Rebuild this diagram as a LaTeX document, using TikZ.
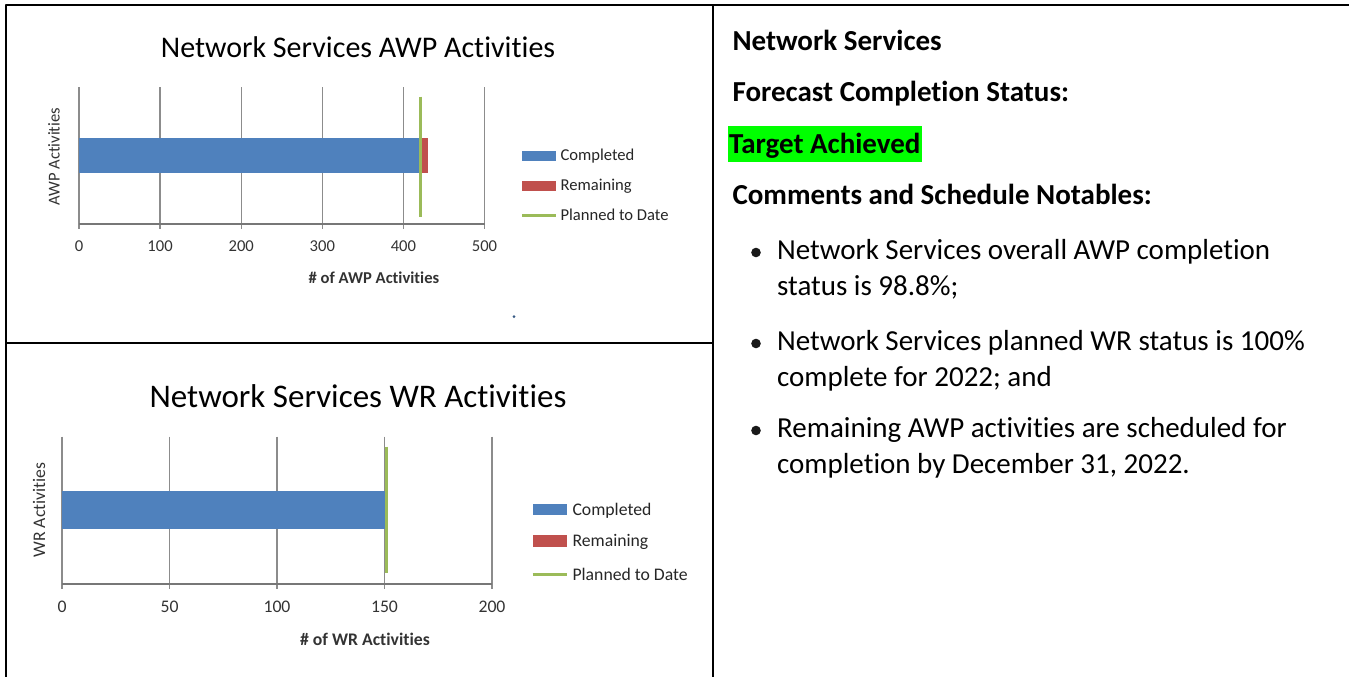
\documentclass[tikz,border=0pt]{standalone}
\usepackage{fontspec}
\setmainfont{Carlito}[Ligatures=NoCommon]
\definecolor{barblue}{HTML}{4F81BD}
\definecolor{barred}{HTML}{C0504D}
\definecolor{plangreen}{HTML}{9BBB59}
\definecolor{gridgray}{HTML}{8C8C8C}
\definecolor{hilite}{HTML}{00FF00}
\newcommand\pxfont[1]{\fontsize{#1}{#1}\selectfont}
\begin{document}
\begin{tikzpicture}[x=1pt, y=-1pt, line join=round,
    frame/.style={line width=2.2pt, black},
    gridln/.style={gridgray, line width=1.4pt},
    axisln/.style={gridgray!85!black, line width=2pt},
    planln/.style={plangreen, line width=3pt},
    charttitle/.style={anchor=base, text=black},
    lbl/.style={text=black!80},
    ticktxt/.style={anchor=base, text=black!80},
    legtxt/.style={anchor=base west, text=black!85},
    heading/.style={anchor=base west, font=\bfseries\pxfont{29}},
    bodytext/.style={anchor=base west, font=\pxfont{29}},
    bulletdot/.style={fill=black!90}]
  \useasboundingbox (0,0) rectangle (1349,677);
  \path
  (6,5.3) coordinate (TL)
  (1349,5.3) coordinate (TR)
  (6,677) coordinate (BL)
  (713.3,5.3) coordinate (MT)
  (713.3,677) coordinate (MB)
  (6,343.3) coordinate (HL)
  (713.3,343.3) coordinate (HR)
  ;
  \draw[frame] (TR)--(TL)--(BL) (MT)--(MB) (HL)--(HR);
  % AWP chart
  \foreach \v in {0,100,...,500}{
    \draw[gridln] ({79+0.811*\v},87.3) -- ({79+0.811*\v},228.5);
    \node[ticktxt, font=\pxfont{16.6}] (ta\v) at ({79+0.811*\v},251.7) {\v};
  }
  \draw[axisln] (79,224) -- (484.5,224);
  \fill[barblue] (79,138.3) rectangle ({79+0.811*420},173.3);
  \fill[barred] ({79+0.811*420},138.3) rectangle ({79+0.811*430},173.3);
  \draw[planln] ({79+0.811*421},96.7) -- ({79+0.811*421},216.7);
  \node[charttitle, font=\pxfont{30}] (awptitle) at (358,57.3) {Network Services AWP Activities};
  \node[lbl, rotate=90, font=\pxfont{16.6}] (awpy) at (54,156.7) {AWP Activities};
  \node[lbl, anchor=base, font=\bfseries\pxfont{16.6}] (awpx) at (374,283.3) {\# of AWP Activities};
  \foreach \c/\t/\y in {barblue/Completed/160.7, barred/Remaining/190.7}{
    \fill[\c] (522,\y-10) rectangle (555.5,\y);
    \node[legtxt, font=\pxfont{16.6}] (la\t) at (557,\y) {\t};
  }
  \draw[planln] (522,215) -- (555.5,215);
  \node[legtxt, font=\pxfont{16.6}] (laplan) at (557,220.7) {Planned to Date};
  \fill[barblue!70!black] (514,316.7) circle (1.5);
  % WR chart
  \foreach \v in {0,50,...,200}{
    \draw[gridln] ({62+2.15*\v},436.7) -- ({62+2.15*\v},588.5);
    \node[ticktxt, font=\pxfont{17.7}] (tw\v) at ({62+2.15*\v},612.7) {\v};
  }
  \draw[axisln] (62,584) -- (492,584);
  \fill[barblue] (62,490.7) rectangle ({62+2.15*150},529.3);
  \draw[planln] ({62+2.15*151},446.7) -- ({62+2.15*151},572.7);
  \node[charttitle, font=\pxfont{33}] (wrtitle) at (358,407.3) {Network Services WR Activities};
  \node[lbl, rotate=90, font=\pxfont{17.7}] (wry) at (39,510) {WR Activities};
  \node[lbl, anchor=base, font=\bfseries\pxfont{17.7}] (wrx) at (365,645) {\# of WR Activities};
  \foreach \c/\t/\y in {barblue/Completed/515, barred/Remaining/546.7}{
    \fill[\c] (532.6,\y-11.5) rectangle (567,\y);
    \node[legtxt, font=\pxfont{17.7}] (lw\t) at (569,\y) {\t};
  }
  \draw[planln] (532.6,574) -- (567,574);
  \node[legtxt, font=\pxfont{17.7}] (lwplan) at (569,580) {Planned to Date};
  % status text
  \node[heading] (ns) at (729,50.7) {Network Services};
  \node[heading] (fcs) at (729,101.7) {Forecast Completion Status:};
  \node[heading, fill=hilite, inner xsep=1pt, inner ysep=0pt, text height=27.3pt, text depth=8.4pt] (target) at (728,153.3) {Target Achieved};
  \node[heading] (csn) at (729,204) {Comments and Schedule Notables:};
  \foreach \n/\y/\a/\b in {1/259.5/{Network Services overall AWP completion}/{status is 98.8\%;},
      2/350.5/{Network Services planned WR status is 100\%}/{complete for 2022; and},
      3/437.5/{Remaining AWP activities are scheduled for}/{completion by December 31, 2022.}}{
    \fill[bulletdot] (756,\y-7) circle (4.8);
    \node[bodytext] (ba\n) at (773.6,\y) {\a};
    \node[bodytext] (bb\n) at (773.6,\y+36) {\b};
  }
\end{tikzpicture}
\end{document}
